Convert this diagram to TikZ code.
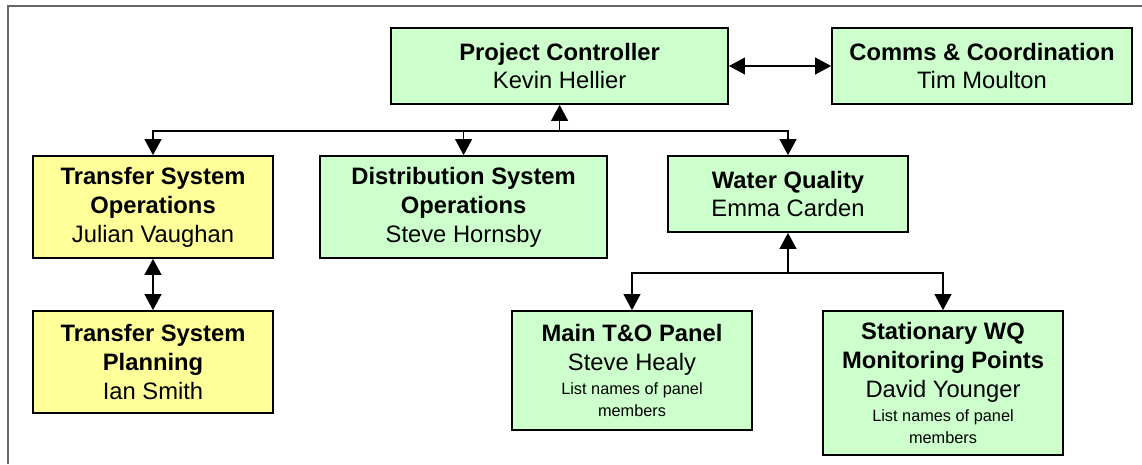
\documentclass[tikz,border=0pt]{standalone}
\usepackage{fontspec}
\setmainfont{Liberation Sans}
\usetikzlibrary{arrows.meta,positioning,calc}
\definecolor{panelgreen}{HTML}{CCFFCC}
\definecolor{transferyellow}{HTML}{FFFF99}
\definecolor{framegray}{HTML}{666666}
\newcommand{\rolefont}{\fontsize{16.9}{20.6}\selectfont}
\newcommand{\notefont}{\fontsize{11.6}{14.9}\selectfont}
\tikzset{
  role/.style={rectangle, draw=black, fill=panelgreen, line width=1.2pt, inner sep=0pt, align=center, font=\rolefont},
  transfer/.style={role, fill=transferyellow},
  arrow/.style={-{Triangle[length=4mm, width=4.2mm]}, line width=1.2pt},
  twoarrow/.style={{Triangle[length=4mm, width=4.2mm]}-{Triangle[length=4mm, width=4.2mm]}, line width=1.2pt}
}

\begin{document}
\begin{tikzpicture}
  \useasboundingbox (0,0) rectangle (28.55,11.6);
  \draw[framegray, line width=1.2pt] (0.2,0) -- (0.2,11.45) -- (28.55,11.45);

  \node[role, minimum width=8.425cm, minimum height=1.9cm] (pc) at (13.99,9.95) {\textbf{Project Controller}\\Kevin Hellier};
  \node[role, minimum width=7.5cm, minimum height=1.9cm] (comms) at (24.55,9.95) {\textbf{Comms \& Coordination}\\Tim Moulton};
  \node[transfer, minimum width=6cm, minimum height=2.55cm] (tso) at (3.825,6.425) {\textbf{Transfer System}\\\textbf{Operations}\\Julian Vaughan};
  \node[transfer, minimum width=6cm, minimum height=2.55cm] (tsp) at (3.825,2.55) {\textbf{Transfer System}\\\textbf{Planning}\\Ian Smith};
  \node[role, minimum width=7.175cm, minimum height=2.55cm] (dso) at (11.59,6.425) {\textbf{Distribution System}\\\textbf{Operations}\\Steve Hornsby};
  \node[role, minimum width=6cm, minimum height=1.9cm] (wq) at (19.7,6.75) {\textbf{Water Quality}\\Emma Carden};
  \node[role, minimum width=6cm, minimum height=2.975cm] (mtop) at (15.8,2.3375) {\textbf{Main T\&O Panel}\\Steve Healy\\[-3pt]\notefont List names of panel\\[-5pt]\notefont members};
  \node[role, minimum width=6cm, minimum height=3.6cm] (swq) at (23.575,2.025) {\textbf{Stationary WQ}\\\textbf{Monitoring Points}\\David Younger\\[-3pt]\notefont List names of panel\\[-5pt]\notefont members};

  % reporting lines
  \coordinate (bus) at ($(pc.south)+(0,-0.65)$);
  \coordinate (wqbus) at ($(wq.south)+(0,-1)$);
  \draw[twoarrow] (pc.east) -- (comms.west);
  \draw[arrow] (bus) -- (pc.south);
  \draw[arrow] (bus) -| (tso.north);
  \draw[arrow] (bus) -| (dso.north);
  \draw[arrow] (bus) -| (wq.north);
  \draw[twoarrow] (tso.south) -- (tsp.north);
  \draw[arrow] (wqbus) -- (wq.south);
  \draw[arrow] (wqbus) -| (mtop.north);
  \draw[arrow] (wqbus) -| (swq.north);
\end{tikzpicture}
\end{document}
